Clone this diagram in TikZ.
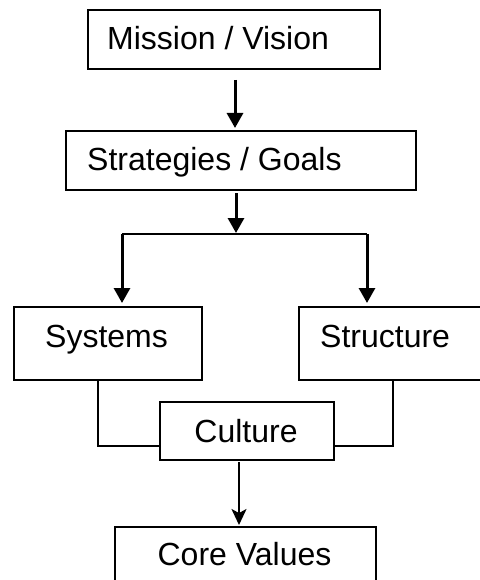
\documentclass[tikz,border=0pt]{standalone}
\usepackage{fontspec}
\setmainfont{Liberation Sans}
\usetikzlibrary{arrows.meta}
\begin{document}
\begin{tikzpicture}[x=1pt,y=-1pt,
  box/.style={draw=black, line width=2pt, rectangle, inner sep=0pt, anchor=north west},
  lbl/.style={font=\fontsize{32}{38}\selectfont, inner sep=0pt},
  thickarrow/.style={line width=3pt, -{Triangle[width=16pt,length=15pt]}},
  thinarrow/.style={line width=2pt, -{Stealth[width=15pt,length=16pt,inset=4pt]}},
  conn/.style={line width=2pt}]
\useasboundingbox (0,0) rectangle (479,580);
% boxes
\node[box, minimum width=292.5pt, minimum height=59pt] (mission) at (86.5,9) {};
\node[box, minimum width=350pt, minimum height=59pt] (strat) at (65,130) {};
\node[box, minimum width=188pt, minimum height=73pt] (systems) at (13,306) {};
\node[box, minimum width=190pt, minimum height=73pt] (structure) at (298,306) {};
\node[box, minimum width=174pt, minimum height=58pt] (culture) at (159,401) {};
\node[box, minimum width=261pt, minimum height=60pt] (core) at (114,526) {};
% labels
\node[lbl, anchor=base west] (missiont) at (107,50) {Mission / Vision};
\node[lbl, anchor=base west] (stratt) at (87,170) {Strategies / Goals};
\node[lbl, anchor=base] (systemst) at (106.5,347) {Systems};
\node[lbl, anchor=base west] (structuret) at (320,347) {Structure};
\node[lbl, anchor=base] (culturet) at (246,442) {Culture};
\node[lbl, anchor=base] (coret) at (244.5,565) {Core Values};
% connector points
\coordinate (a1) at (235,80);
\coordinate (a2) at (235,128);
\coordinate (b1) at (236,193);
\coordinate (b2) at (236,233);
\coordinate (bl) at (122,234);
\coordinate (br) at (367,234);
\coordinate (sl) at (122,303);
\coordinate (sr) at (367,303);
\coordinate (c1) at (98,379);
\coordinate (c2) at (98,446);
\coordinate (d1) at (393,379);
\coordinate (d2) at (393,446);
\coordinate (e1) at (239,462);
\coordinate (e2) at (239,525);
% connectors
\draw[thickarrow] (a1) -- (a2);
\draw[thickarrow] (b1) -- (b2);
\draw[conn] (bl) -- (br);
\draw[thickarrow] (bl) -- (sl);
\draw[thickarrow] (br) -- (sr);
\draw[conn] (c1) -- (c2) -- (c2 -| culture.west);
\draw[conn] (d1) -- (d2) -- (d2 -| culture.east);
\draw[thinarrow] (e1) -- (e2);
\end{tikzpicture}
\end{document}
